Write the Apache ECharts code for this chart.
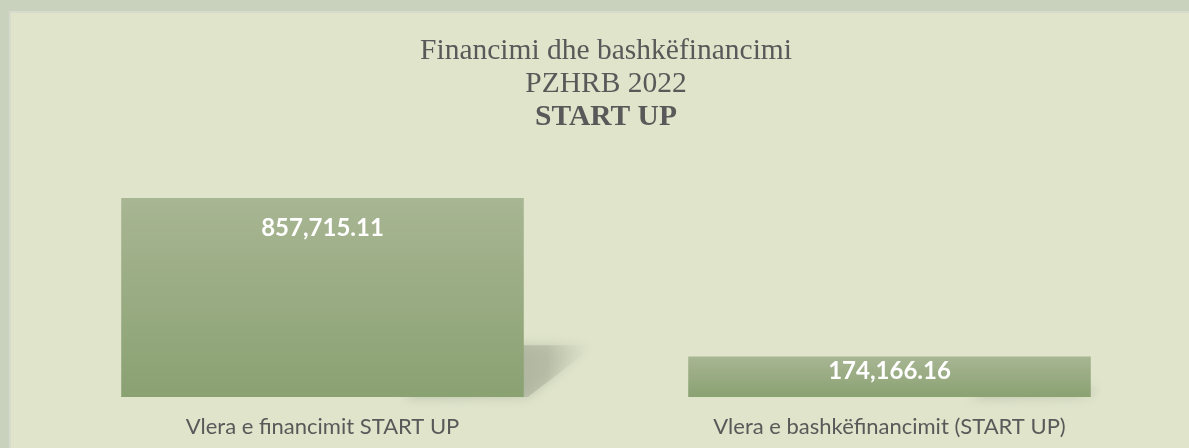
<!DOCTYPE html>
<html>
<head>
<meta charset="utf-8">
<script src="https://cdn.jsdelivr.net/npm/echarts@6/dist/echarts.min.js"></script>
<style>
  html, body { margin: 0; padding: 0; }
  #chart { width: 1189px; height: 448px; }
</style>
</head>
<body>
<div id="chart"></div>
<script>
const categories = ['Vlera e financimit START UP', 'Vlera e bashkëfinancimit (START UP)']
const values = [857715.11, 174166.16]
const titleLines = ['Financimi dhe bashkëfinancimi', 'PZHRB 2022', 'START UP']

const myChart = echarts.init(document.getElementById('chart'))

function fmt(v) {
  return v.toLocaleString('en-US', { minimumFractionDigits: 2, maximumFractionDigits: 2 })
}

// slanted shadow behind each bar
function renderShadow(params, api) {
  const top = api.coord([api.value(0), api.value(1)])
  const base = api.coord([api.value(0), 0])
  const band = api.size([1, 0])[0]
  const w = band * 0.71
  const h = base[1] - top[1]
  const xR = top[0] + w / 2
  const sh = h * 0.26
  const skew = h * 0.36
  return {
    type: 'polygon',
    shape: {
      points: [
        [xR - w * 0.3, base[1]],
        [xR - w * 0.3 + skew, base[1] - sh],
        [xR + skew, base[1] - sh],
        [xR + 4, base[1]]
      ]
    },
    style: {
      fill: new echarts.graphic.LinearGradient(0, 0, 1, 0, [
        { offset: 0, color: 'rgba(140,148,125,0.8)' },
        { offset: 0.75, color: 'rgba(170,176,155,0.55)' },
        { offset: 1, color: 'rgba(223,228,203,0)' }
      ]),
      shadowBlur: 12,
      shadowColor: 'rgba(150,158,135,0.7)'
    }
  }
}

const option = {
  backgroundColor: '#c9d2bd',
  animation: false,
  graphic: [
    {
      type: 'rect',
      z: -10,
      shape: { x: 10, y: 12, width: 1200, height: 460 },
      style: { fill: '#dfe4cb', stroke: '#d7dacd', lineWidth: 2 }
    }
  ],
  title: {
    left: 601,
    top: 30,
    textAlign: 'center',
    text: '{a|' + titleLines[0] + '}\n{a|' + titleLines[1] + '}\n{b|' + titleLines[2] + '}',
    textStyle: {
      fontWeight: 'normal',
      rich: {
        a: { fontFamily: 'Liberation Serif', fontSize: 29.5, lineHeight: 33, color: '#595959', fontWeight: 'normal', align: 'center' },
        b: { fontFamily: 'Liberation Serif', fontSize: 29.5, lineHeight: 33, color: '#595959', fontWeight: 'bold', align: 'center' }
      }
    }
  },
  grid: {
    left: 39,
    right: 16,
    top: 198,
    bottom: 51
  },
  xAxis: {
    type: 'category',
    data: categories,
    axisLine: { show: false },
    axisTick: { show: false },
    axisLabel: {
      margin: 19,
      fontFamily: 'Lato',
      fontSize: 22,
      color: '#595959'
    }
  },
  yAxis: {
    type: 'value',
    min: 0,
    max: function (v) { return v.max },
    show: false,
    splitLine: { show: false }
  },
  series: [
    {
      type: 'custom',
      z: 1,
      renderItem: renderShadow,
      data: values.map(function (v, i) { return [i, v] })
    },
    {
      type: 'bar',
      z: 2,
      barWidth: '71%',
      data: values,
      itemStyle: {
        color: new echarts.graphic.LinearGradient(0, 0, 0, 1, [
          { offset: 0, color: '#a8b693' },
          { offset: 1, color: '#8aa172' }
        ])
      },
      label: {
        show: true,
        position: 'insideTop',
        distance: 18,
        fontFamily: 'Lato',
        fontWeight: 'bold',
        fontSize: 24,
        color: '#ffffff',
        formatter: function (p) { return fmt(p.value) }
      },
      emphasis: { disabled: true }
    }
  ]
}

// small bar: keep its label inside the bar
option.series[1].data = values.map(function (v, i) {
  return i === 1 ? { value: v, label: { distance: 3 } } : v
})

myChart.setOption(option)
</script>
</body>
</html>
